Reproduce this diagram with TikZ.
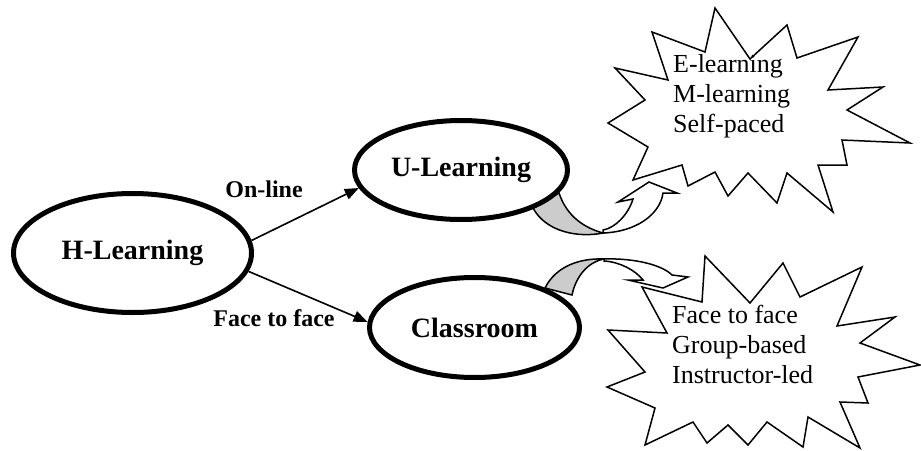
\documentclass[tikz,border=0pt]{standalone}
\usepackage{fontspec}
\setmainfont{Liberation Serif}
\usetikzlibrary{shapes.geometric,arrows.meta}

\begin{document}
\begin{tikzpicture}[x=1pt,y=-1pt,
    mode/.style={draw,ellipse,line width=5pt,fill=white,inner sep=0pt,
      font=\fontsize{28}{32}\selectfont\bfseries},
    via/.style={font=\fontsize{24}{28}\selectfont\bfseries,inner sep=0pt},
    link/.style={line width=1.6pt,-{Triangle[length=14pt,width=11pt]}},
    burst/.style={draw,line width=1.5pt,line join=miter,fill=white},
    burstlist/.style={align=left,anchor=north west,inner sep=0pt,
      font=\fontsize{26}{30}\selectfont},
    bendfront/.style={draw,line width=1.5pt,line join=miter,fill=white},
    bendback/.style={draw,line width=1.5pt,fill=black!20}]
  \useasboundingbox (0,0) rectangle (921,450);

  % starbursts
  \path[burst] (715,8) -- (750,59) -- (787,25) -- (797,58) -- (858,37)
    -- (828,90) -- (883,87) -- (847,110) -- (910,143) -- (842,140)
    -- (847,165) -- (818,165) -- (833,212) -- (787,173) -- (777,203)
    -- (748,173) -- (728,196) -- (715,172) -- (688,186) -- (682,165)
    -- (633,180) -- (648,147) -- (608,123) -- (645,100) -- (615,68)
    -- (668,80) -- (652,32) -- (705,52) -- cycle;
  \path[burst] (705,256) -- (750,303) -- (783,263) -- (800,297) -- (862,267)
    -- (837,326) -- (895,317) -- (860,343) -- (920,365) -- (858,377)
    -- (868,403) -- (840,402) -- (860,448) -- (808,417) -- (803,447)
    -- (767,422) -- (748,445) -- (728,425) -- (707,443) -- (693,422)
    -- (645,445) -- (655,408) -- (607,387) -- (645,372) -- (608,330)
    -- (667,333) -- (642,287) -- (702,302) -- cycle;
  \node[burstlist] (ulist) at (673,54) {E-learning\\M-learning\\Self-paced};
  \node[burstlist] (clist) at (672,305) {Face to face\\Group-based\\Instructor-led};

  % curved arrows out of the two modes
  \path[bendback] (533,208) .. controls (546,232) and (578,238) .. (603,233)
    .. controls (585,228) and (567,217) .. (559,193) -- cycle;
  \path[bendfront] (603,233) .. controls (635,232) and (660,215) .. (663,193)
    -- (677,193) -- (649,182) -- (618,202) -- (633,199)
    .. controls (628,215) and (615,228) .. (603,230) -- cycle;
  \path[bendback] (545,288) .. controls (556,266) and (580,258) .. (604,259)
    .. controls (588,262) and (576,276) .. (572,295) -- cycle;
  \path[bendfront] (604,259) .. controls (635,258) and (662,265) .. (672,275)
    -- (688,277) -- (663,288) -- (628,280) -- (643,280)
    .. controls (635,270) and (620,262) .. (604,261) -- cycle;

  % modes
  \node[mode,minimum width=238,minimum height=119] (hl) at (132.5,253) {H-Learning};
  \node[mode,minimum width=213,minimum height=99] (ul) at (461,170) {U-Learning};
  \node[mode,minimum width=210,minimum height=100] (cl) at (474.5,327.5) {Classroom};

  \draw[link] (hl.6) -- (ul.190);
  \draw[link] (hl.-9) -- (cl.177);
  \node[via] (online) at (264,189) {On-line};
  \node[via] (f2f) at (274,318) {Face to face};
\end{tikzpicture}
\end{document}
